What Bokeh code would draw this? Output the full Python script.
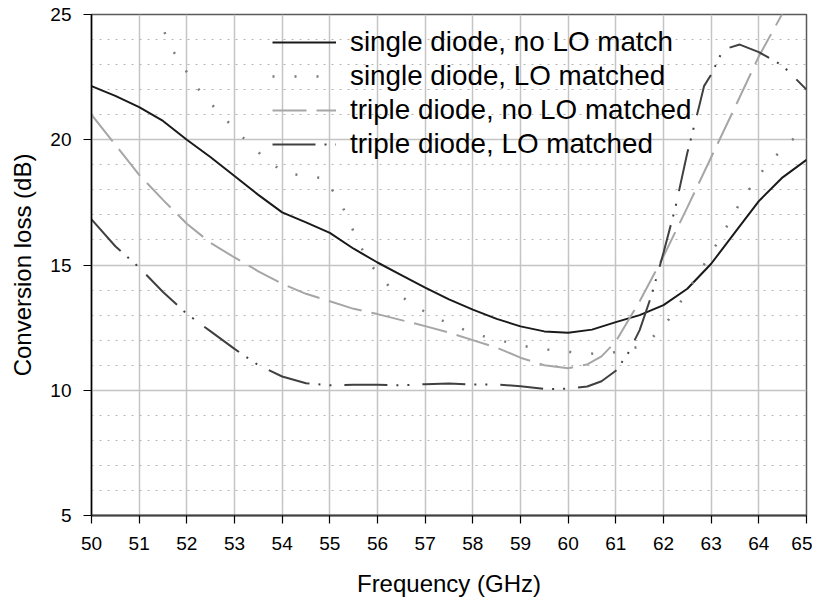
from bokeh.plotting import figure
from bokeh.models import Range1d, FixedTicker, Legend, LegendItem
from bokeh.embed import file_html
from bokeh.resources import INLINE

# ---- data ----
x_ticks = list(range(50, 66))
y_ticks = [5, 10, 15, 20, 25]
y_minor = list(range(5, 26))

freq_a = [50, 50.5, 51, 51.5, 52, 52.5, 53, 53.5, 54, 54.5, 55, 55.5, 56, 56.5, 57, 57.5,
          58, 58.5, 59, 59.5, 60, 60.5, 61, 61.5, 62, 62.5, 63, 63.5, 64, 64.5, 65]
single_no_lo = [22.14, 21.75, 21.3, 20.75, 20.0, 19.3, 18.55, 17.8, 17.1, 16.7, 16.28, 15.65,
                15.1, 14.6, 14.1, 13.63, 13.22, 12.85, 12.55, 12.35, 12.3, 12.42, 12.72, 13.0,
                13.4, 14.05, 15.05, 16.3, 17.55, 18.5, 19.2]

freq_b = [51.35, 51.67, 52.0, 52.3, 52.72, 53.15, 53.59, 54.04, 54.5, 54.94, 55.05, 55.3, 55.6,
          55.86, 56.24, 56.7, 57.15, 57.6, 58.06, 58.5, 58.97, 59.42, 59.88, 60.33, 60.78, 61.2,
          61.5, 61.7, 61.9, 62.1, 62.42, 62.7, 62.98, 63.26, 63.5, 63.79, 64.13, 64.55, 65]
single_lo = [25.1, 23.67, 22.7, 21.87, 21.0, 20.14, 19.34, 18.68, 18.55, 18.45, 18.0, 17.19, 15.9,
             15.0, 14.15, 13.46, 12.96, 12.58, 12.23, 12.03, 11.8, 11.65, 11.56, 11.47, 11.45, 11.6,
             11.75, 11.98, 12.36, 12.8, 13.7, 14.55, 15.42, 16.3, 17.15, 18.0, 18.9, 19.74, 20.5]

freq_c = [50, 50.5, 51, 51.5, 52, 52.5, 53, 53.5, 54, 54.5, 55, 55.5, 56, 56.5, 57, 57.5, 58,
          58.5, 59, 59.5, 60, 60.4, 60.7, 61, 61.5, 62, 62.5, 63, 63.5, 64, 64.6]
triple_no_lo = [21.0, 19.8, 18.6, 17.6, 16.65, 15.88, 15.3, 14.75, 14.25, 13.85, 13.55, 13.25,
                13.04, 12.8, 12.56, 12.3, 12.0, 11.7, 11.3, 11.0, 10.88, 11.03, 11.35, 11.95,
                13.55, 15.35, 17.3, 19.3, 21.3, 23.33, 25.4]

freq_d = [50, 50.5, 51, 51.5, 52, 52.5, 53, 53.5, 54, 54.5, 55, 55.5, 56, 56.5, 57, 57.5, 58,
          58.5, 59, 59.5, 60, 60.4, 60.7, 61, 61.25, 61.5, 61.75, 62, 62.25, 62.5, 62.75, 62.85,
          63, 63.25, 63.6, 64, 64.5, 65]
triple_lo = [16.82, 15.75, 14.9, 13.92, 13.05, 12.35, 11.65, 11.0, 10.55, 10.28, 10.2, 10.22,
             10.22, 10.2, 10.24, 10.27, 10.23, 10.23, 10.16, 10.05, 10.06, 10.15, 10.36, 10.78,
             11.45, 12.4, 13.8, 15.49, 17.3, 19.48, 21.35, 22.14, 22.6, 23.6, 23.8, 23.5, 22.96,
             22.0]

labels = ["single diode, no LO match", "single diode, LO matched",
          "triple diode, no LO matched", "triple diode, LO matched"]

FONT = "Liberation Sans"

p = figure(frame_width=715, frame_height=501, output_backend="svg", toolbar_location=None,
           x_range=Range1d(50, 65), y_range=Range1d(5, 25),
           min_border_left=91, min_border_top=14, min_border_right=6, min_border_bottom=80)

p.background_fill_color = "white"
p.border_fill_color = "white"
p.outline_line_color = "#5a5a5a"
p.outline_line_width = 1.5

# axes
p.xaxis.ticker = FixedTicker(ticks=x_ticks)
p.yaxis.ticker = FixedTicker(ticks=y_ticks, minor_ticks=y_minor)
for ax in (p.xaxis[0], p.yaxis[0]):
    ax.major_tick_out = 8
    ax.major_tick_in = 0
    ax.minor_tick_out = 0
    ax.minor_tick_in = 0
    ax.major_tick_line_color = "black"
    ax.major_tick_line_width = 1.2
    ax.major_label_text_font = FONT
    ax.major_label_text_font_size = "19px"
    ax.major_label_text_color = "black"
    ax.axis_label_text_font = FONT
    ax.axis_label_text_font_size = "24px"
    ax.axis_label_text_font_style = "normal"
    ax.axis_label_text_color = "black"
    ax.major_label_standoff = 12
p.xaxis.major_label_standoff = 13
p.xaxis.axis_label = "Frequency (GHz)"
p.yaxis.axis_label = "Conversion loss (dB)"
p.xaxis.axis_line_color = "#404040"
p.xaxis.axis_line_width = 2
p.yaxis.axis_line_color = "black"
p.yaxis.axis_line_width = 1.5
p.xaxis.axis_label_standoff = 17
p.yaxis.axis_label_standoff = 11

# grid
p.xgrid.grid_line_color = "#c4c4c4"
p.xgrid.grid_line_width = 1.5
p.ygrid.grid_line_color = "#c4c4c4"
p.ygrid.grid_line_width = 1.5
p.ygrid.minor_grid_line_color = "#b4b4b4"
p.ygrid.minor_grid_line_dash = "2 6"
p.ygrid.minor_grid_line_width = 1

r1 = p.line(freq_a, single_no_lo, line_color="#1a1a1a", line_width=2)
r2 = p.line(freq_b, single_lo, line_color="#7a7a7a", line_width=2.5, line_dash="2 20")
r3 = p.line(freq_c, triple_no_lo, line_color="#a6a6a6", line_width=2, line_dash="34 10")
r4 = p.line(freq_d, triple_lo, line_color="#404040", line_width=2, line_dash="43 9 2 9 2 13")

legend = Legend(items=[LegendItem(label=labels[0], renderers=[r1]),
                       LegendItem(label=labels[1], renderers=[r2]),
                       LegendItem(label=labels[2], renderers=[r3]),
                       LegendItem(label=labels[3], renderers=[r4])],
                location=(181, 354))
legend.background_fill_alpha = 0
legend.border_line_color = None
legend.padding = 0
legend.margin = 0
legend.spacing = 0
legend.glyph_width = 64
legend.glyph_height = 34
legend.label_height = 34
legend.label_standoff = 14
legend.label_text_font = FONT
legend.label_text_font_size = "27.8px"
legend.label_text_color = "black"
p.add_layout(legend, "center")

open("out.html", "w").write(file_html(p, INLINE))
